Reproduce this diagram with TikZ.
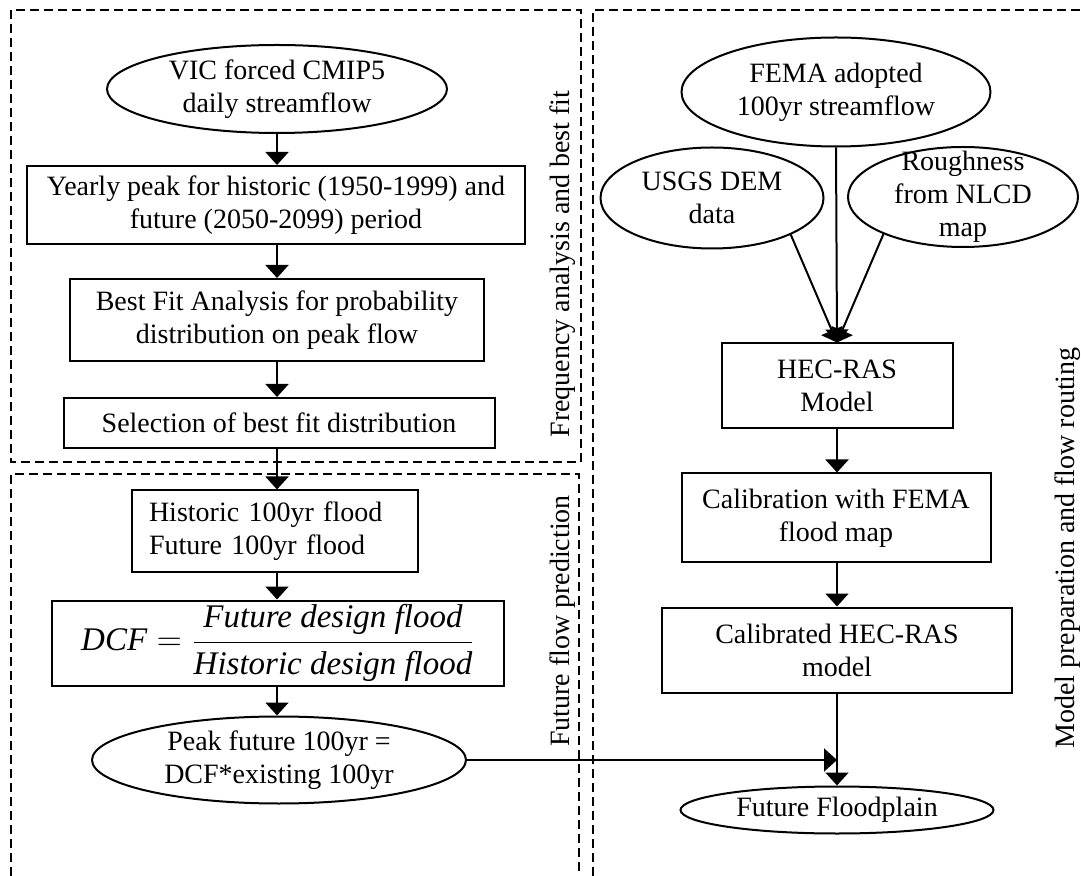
\documentclass[tikz,border=0pt]{standalone}
\usepackage{fontspec}
\setmainfont{Liberation Serif}
\usetikzlibrary{arrows.meta,shapes.geometric}
\begin{document}
\begin{tikzpicture}[x=0.5pt,y=-0.5pt,
  every node/.style={font=\fontsize{14}{16.5}\selectfont},
  box/.style={draw, line width=1pt, rectangle, inner sep=0pt, align=center},
  ell/.style={draw, line width=1pt, ellipse, inner sep=0pt},
  arr/.style={line width=1pt, -{Triangle[width=11.5pt,length=6.5pt]}},
  region/.style={line width=1pt, dash pattern=on 4.5pt off 2.5pt},
  side/.style={rotate=90, inner sep=0pt}]
\useasboundingbox (0,0) rectangle (1081,876);
\clip (0,0) rectangle (1081,876);

% regions
\draw[region] (11,10) rectangle (581,462);
\draw[region] (11,890) -- (11,474) -- (579,474) -- (579,890);
\draw[region] (593,890) -- (593,10) -- (1095,10);

% left column
\node[ell, minimum width=170pt, minimum height=44pt,
  label={[align=center]center:{VIC forced CMIP5\\daily streamflow}}] (vic) at (277,89) {};
\node[box, minimum width=249pt, minimum height=39pt] (yearly) at (276,205)
  {Yearly peak for historic (1950-1999) and\\future (2050-2099) period};
\node[box, minimum width=207pt, minimum height=41pt] (bestfit) at (277,320)
  {Best Fit Analysis for probability\\distribution on peak flow};
\node[box, minimum width=215.5pt, minimum height=25pt] (select) at (279,423)
  {Selection of best fit distribution};
\node[box, text width=126pt, inner xsep=8.5pt, align=left, minimum height=40.5pt] (hist) at (275,531)
  {Historic 100yr flood\\Future 100yr flood};
\node[box, minimum width=226pt, minimum height=42.5pt,
  font=\fontsize{16.5}{19}\selectfont] (dcf) at (278,643)
  {$\displaystyle\textit{DCF} = \frac{\textit{Future design flood}}{\textit{Historic design flood}}$};
\node[ell, minimum width=187pt, minimum height=43.5pt,
  label={[align=center]center:{Peak future 100yr =\\DCF*existing 100yr}}] (peak) at (279,760) {};

% right column
\node[ell, minimum width=154.5pt, minimum height=54.5pt,
  label={[align=center]center:{FEMA adopted\\100yr streamflow}}] (fema) at (836,92) {};
\node[ell, minimum width=111.5pt, minimum height=50.5pt,
  label={[align=center]center:{USGS DEM\\data}}] (usgs) at (712,198) {};
\node[ell, minimum width=115pt, minimum height=50pt,
  label={[align=center]center:{Roughness\\from NLCD\\map}}] (rough) at (963,197) {};
\node[box, minimum width=115.5pt, minimum height=42.5pt] (hec) at (837,386)
  {HEC-RAS\\Model};
\node[box, minimum width=154.5pt, minimum height=44.5pt] (calib) at (836,518)
  {Calibration with FEMA\\flood map};
\node[box, minimum width=175pt, minimum height=42.5pt] (calibd) at (837,650)
  {Calibrated HEC-RAS\\model};
\node[ell, minimum width=156.5pt, minimum height=23.5pt,
  label={center:Future Floodplain}] (flood) at (837,810) {};

% side labels
\node[side] (freqlab) at (563,264) {Frequency analysis and best fit};
\node[side] (predlab) at (563,621) {Future flow prediction};
\node[side] (modlab) at (1068,548) {Model preparation and flow routing};

% connectors
\draw[arr] (vic.south) -- (vic.south |- yearly.north);
\draw[arr] (bestfit.north |- yearly.south) -- (bestfit.north);
\draw[arr] (bestfit.south) -- (bestfit.south |- select.north);
\draw[arr] (bestfit.south |- select.south) -- (bestfit.south |- hist.north);
\draw[arr] (bestfit.south |- hist.south) -- (bestfit.south |- dcf.north);
\draw[arr] (bestfit.south |- dcf.south) -- (bestfit.south |- peak.north);
\draw[arr] (fema.south) -- (hec.north);
\draw[arr] (usgs.-25) -- (hec.north);
\draw[arr] (rough.-155) -- (hec.north);
\draw[arr] (hec.south) -- (hec.south |- calib.north);
\draw[arr] (hec.south |- calib.south) -- (hec.south |- calibd.north);
\draw[arr] (calibd.south) -- (flood.north);
\draw[arr] (peak.east) -- (peak.east -| calibd.south);
\end{tikzpicture}
\end{document}
